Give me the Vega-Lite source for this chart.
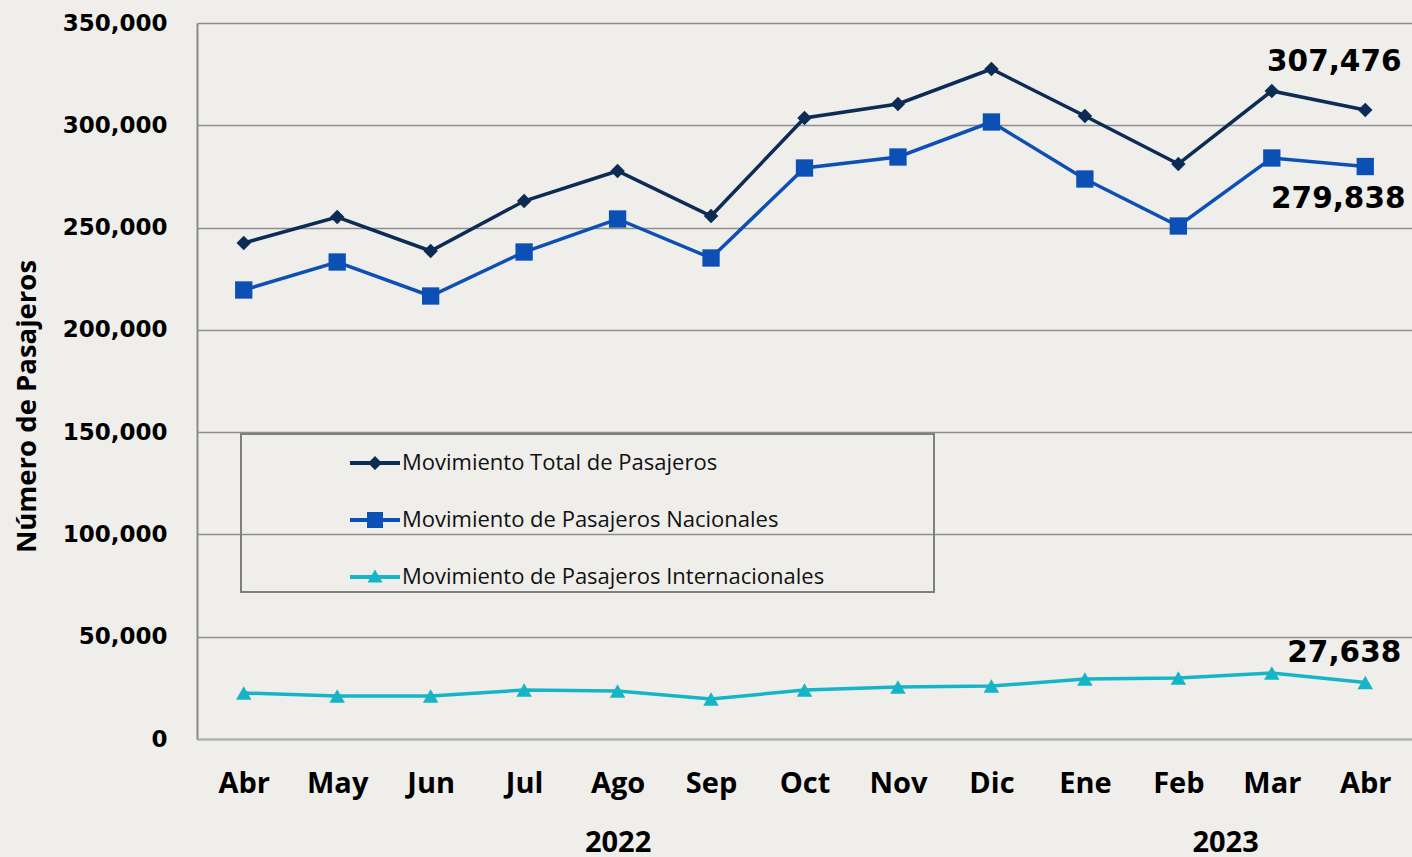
{
  "$schema": "https://vega.github.io/schema/vega-lite/v6.json",
  "width": 1215,
  "height": 716,
  "autosize": "none",
  "padding": {"left": 197, "top": 23, "right": 0, "bottom": 118},
  "background": "#efeeeb",
  "config": {"view": {"stroke": null}},
  "datasets": {
    "series": [
      {"k": "Abr 2022", "serie": "Movimiento Total de Pasajeros", "v": 242458},
      {"k": "May 2022", "serie": "Movimiento Total de Pasajeros", "v": 255168},
      {"k": "Jun 2022", "serie": "Movimiento Total de Pasajeros", "v": 238547},
      {"k": "Jul 2022", "serie": "Movimiento Total de Pasajeros", "v": 262989},
      {"k": "Ago 2022", "serie": "Movimiento Total de Pasajeros", "v": 277654},
      {"k": "Sep 2022", "serie": "Movimiento Total de Pasajeros", "v": 255656},
      {"k": "Oct 2022", "serie": "Movimiento Total de Pasajeros", "v": 303561},
      {"k": "Nov 2022", "serie": "Movimiento Total de Pasajeros", "v": 310405},
      {"k": "Dic 2022", "serie": "Movimiento Total de Pasajeros", "v": 327514},
      {"k": "Ene 2023", "serie": "Movimiento Total de Pasajeros", "v": 304539},
      {"k": "Feb 2023", "serie": "Movimiento Total de Pasajeros", "v": 281075},
      {"k": "Mar 2023", "serie": "Movimiento Total de Pasajeros", "v": 316760},
      {"k": "Abr 2023", "serie": "Movimiento Total de Pasajeros", "v": 307476},
      {"k": "Abr 2022", "serie": "Movimiento de Pasajeros Nacionales", "v": 219483},
      {"k": "May 2022", "serie": "Movimiento de Pasajeros Nacionales", "v": 233170},
      {"k": "Jun 2022", "serie": "Movimiento de Pasajeros Nacionales", "v": 216550},
      {"k": "Jul 2022", "serie": "Movimiento de Pasajeros Nacionales", "v": 238059},
      {"k": "Ago 2022", "serie": "Movimiento de Pasajeros Nacionales", "v": 254190},
      {"k": "Sep 2022", "serie": "Movimiento de Pasajeros Nacionales", "v": 235126},
      {"k": "Oct 2022", "serie": "Movimiento de Pasajeros Nacionales", "v": 279120},
      {"k": "Nov 2022", "serie": "Movimiento de Pasajeros Nacionales", "v": 284497},
      {"k": "Dic 2022", "serie": "Movimiento de Pasajeros Nacionales", "v": 301606},
      {"k": "Ene 2023", "serie": "Movimiento de Pasajeros Nacionales", "v": 273743},
      {"k": "Feb 2023", "serie": "Movimiento de Pasajeros Nacionales", "v": 250768},
      {"k": "Mar 2023", "serie": "Movimiento de Pasajeros Nacionales", "v": 284008},
      {"k": "Abr 2023", "serie": "Movimiento de Pasajeros Nacionales", "v": 279838},
      {"k": "Abr 2022", "serie": "Movimiento de Pasajeros Internacionales", "v": 22486},
      {"k": "May 2022", "serie": "Movimiento de Pasajeros Internacionales", "v": 21020},
      {"k": "Jun 2022", "serie": "Movimiento de Pasajeros Internacionales", "v": 21020},
      {"k": "Jul 2022", "serie": "Movimiento de Pasajeros Internacionales", "v": 23953},
      {"k": "Ago 2022", "serie": "Movimiento de Pasajeros Internacionales", "v": 23464},
      {"k": "Sep 2022", "serie": "Movimiento de Pasajeros Internacionales", "v": 19553},
      {"k": "Oct 2022", "serie": "Movimiento de Pasajeros Internacionales", "v": 23953},
      {"k": "Nov 2022", "serie": "Movimiento de Pasajeros Internacionales", "v": 25419},
      {"k": "Dic 2022", "serie": "Movimiento de Pasajeros Internacionales", "v": 25908},
      {"k": "Ene 2023", "serie": "Movimiento de Pasajeros Internacionales", "v": 29330},
      {"k": "Feb 2023", "serie": "Movimiento de Pasajeros Internacionales", "v": 29818},
      {"k": "Mar 2023", "serie": "Movimiento de Pasajeros Internacionales", "v": 32262},
      {"k": "Abr 2023", "serie": "Movimiento de Pasajeros Internacionales", "v": 27638}
    ],
    "years": [
      {"pos": 4, "year": "2022"},
      {"pos": 10.5, "year": "2023"}
    ]
  },
  "layer": [
    {
      "data": {"name": "series"},
      "encoding": {
        "x": {
          "field": "k",
          "type": "ordinal",
          "scale": {
            "type": "point",
            "padding": 0.5,
            "domain": ["Abr 2022", "May 2022", "Jun 2022", "Jul 2022", "Ago 2022", "Sep 2022", "Oct 2022", "Nov 2022", "Dic 2022", "Ene 2023", "Feb 2023", "Mar 2023", "Abr 2023"]
          },
          "axis": {
            "title": null,
            "labelExpr": "split(datum.value, ' ')[0]",
            "labelAngle": 0,
            "labelFont": "Open Sans",
            "labelFontWeight": "bold",
            "labelFontSize": 29,
            "labelColor": "#000000",
            "labelPadding": 30,
            "ticks": false,
            "grid": false,
            "domain": true,
            "domainColor": "#b0b0b0",
            "domainWidth": 2
          }
        },
        "y": {
          "field": "v",
          "type": "quantitative",
          "scale": {"domain": [0, 350000], "nice": false},
          "axis": {
            "title": "Número de Pasajeros",
            "titleFont": "Open Sans",
            "titleFontWeight": "bold",
            "titleFontSize": 27.5,
            "titleColor": "#000000",
            "titlePadding": 21,
            "titleY": 383,
            "values": [0, 50000, 100000, 150000, 200000, 250000, 300000, 350000],
            "labelExpr": "format(datum.value, ',')",
            "labelFont": "DejaVu Sans",
            "labelFontWeight": "bold",
            "labelFontSize": 23,
            "labelColor": "#000000",
            "labelPadding": 30,
            "ticks": false,
            "domain": true,
            "domainColor": "#8a8a8a",
            "domainWidth": 2,
            "grid": true,
            "gridColor": "#8e8e8e",
            "gridWidth": 1.5
          }
        }
      },
      "layer": [
        {
          "mark": {"type": "line", "strokeWidth": 3.5},
          "encoding": {
            "color": {
              "field": "serie",
              "type": "nominal",
              "scale": {
                "domain": ["Movimiento Total de Pasajeros", "Movimiento de Pasajeros Nacionales", "Movimiento de Pasajeros Internacionales"],
                "range": ["#0c2b55", "#0d50b5", "#16b4c7"]
              },
              "legend": {
                "orient": "none",
                "legendX": 44,
                "legendY": 411,
                "title": " ",
                "titleOrient": "right",
                "titlePadding": 106,
                "padding": 4,
                "strokeColor": "#7f7f7f",
                "symbolOffset": 105,
                "labelOffset": 2,
                "rowPadding": 21,
                "symbolSize": 2500,
                "symbolStrokeWidth": 0,
                "labelFont": "Open Sans",
                "labelFontSize": 22,
                "labelColor": "#111111",
                "labelLimit": 700,
                "encode": {
                  "legend": {"update": {"strokeWidth": {"value": 2}}},
                  "symbols": {
                    "update": {
                      "shape": {"signal": "datum.value === 'Movimiento Total de Pasajeros' ? 'M-1,-0.08H1V0.08H-1ZM0,-0.28L0.28,0L0,0.28L-0.28,0Z' : datum.value === 'Movimiento de Pasajeros Nacionales' ? 'M-1,-0.08H1V0.08H-1ZM-0.32,-0.32H0.32V0.32H-0.32Z' : 'M-1,-0.08H1V0.08H-1ZM0,-0.3L0.3,0.22H-0.3Z'"},
                      "fill": {"signal": "scale('color', datum.value)"},
                      "fillOpacity": {"value": 1},
                      "size": {"value": 2500},
                      "opacity": {"value": 1}
                    }
                  }
                }
              }
            }
          }
        },
        {
          "transform": [{"filter": "datum.serie === 'Movimiento Total de Pasajeros'"}],
          "mark": {"type": "point", "filled": true, "opacity": 1, "shape": "diamond", "size": 210, "color": "#0c2b55"}
        },
        {
          "transform": [{"filter": "datum.serie === 'Movimiento de Pasajeros Nacionales'"}],
          "mark": {"type": "point", "filled": true, "opacity": 1, "shape": "square", "size": 300, "color": "#0d50b5"}
        },
        {
          "transform": [{"filter": "datum.serie === 'Movimiento de Pasajeros Internacionales'"}],
          "mark": {"type": "point", "filled": true, "opacity": 1, "shape": "triangle-up", "size": 240, "color": "#16b4c7"}
        },
        {
          "transform": [{"filter": "datum.k === 'Abr 2023' && datum.serie === 'Movimiento Total de Pasajeros'"}],
          "mark": {"type": "text", "font": "DejaVu Sans", "fontWeight": "bold", "fontSize": 29.5, "color": "#000000", "align": "center", "baseline": "alphabetic", "dx": -31, "dy": -39},
          "encoding": {"text": {"field": "v", "type": "quantitative", "format": ","}}
        },
        {
          "transform": [{"filter": "datum.k === 'Abr 2023' && datum.serie === 'Movimiento de Pasajeros Nacionales'"}],
          "mark": {"type": "text", "font": "DejaVu Sans", "fontWeight": "bold", "fontSize": 29.5, "color": "#000000", "align": "center", "baseline": "alphabetic", "dx": -27, "dy": 41},
          "encoding": {"text": {"field": "v", "type": "quantitative", "format": ","}}
        },
        {
          "transform": [{"filter": "datum.k === 'Abr 2023' && datum.serie === 'Movimiento de Pasajeros Internacionales'"}],
          "mark": {"type": "text", "font": "DejaVu Sans", "fontWeight": "bold", "fontSize": 29.5, "color": "#000000", "align": "center", "baseline": "alphabetic", "dx": -21, "dy": -20},
          "encoding": {"text": {"field": "v", "type": "quantitative", "format": ","}}
        }
      ]
    },
    {
      "data": {"name": "years"},
      "mark": {"type": "rule", "opacity": 0},
      "encoding": {
        "x": {
          "field": "pos",
          "type": "quantitative",
          "scale": {"domain": [-0.5, 12.5], "nice": false, "zero": false},
          "axis": {
            "orient": "bottom",
            "title": null,
            "values": [4, 10.5],
            "labelExpr": "datum.value == 4 ? '2022' : '2023'",
            "labelFont": "Open Sans",
            "labelFontWeight": "bold",
            "labelFontSize": 29,
            "labelColor": "#000000",
            "labelPadding": 89,
            "labelOverlap": false,
            "labelBound": false,
            "labelFlush": false,
            "ticks": false,
            "grid": false,
            "domain": false
          }
        }
      }
    }
  ],
  "resolve": {"scale": {"x": "independent"}}
}
